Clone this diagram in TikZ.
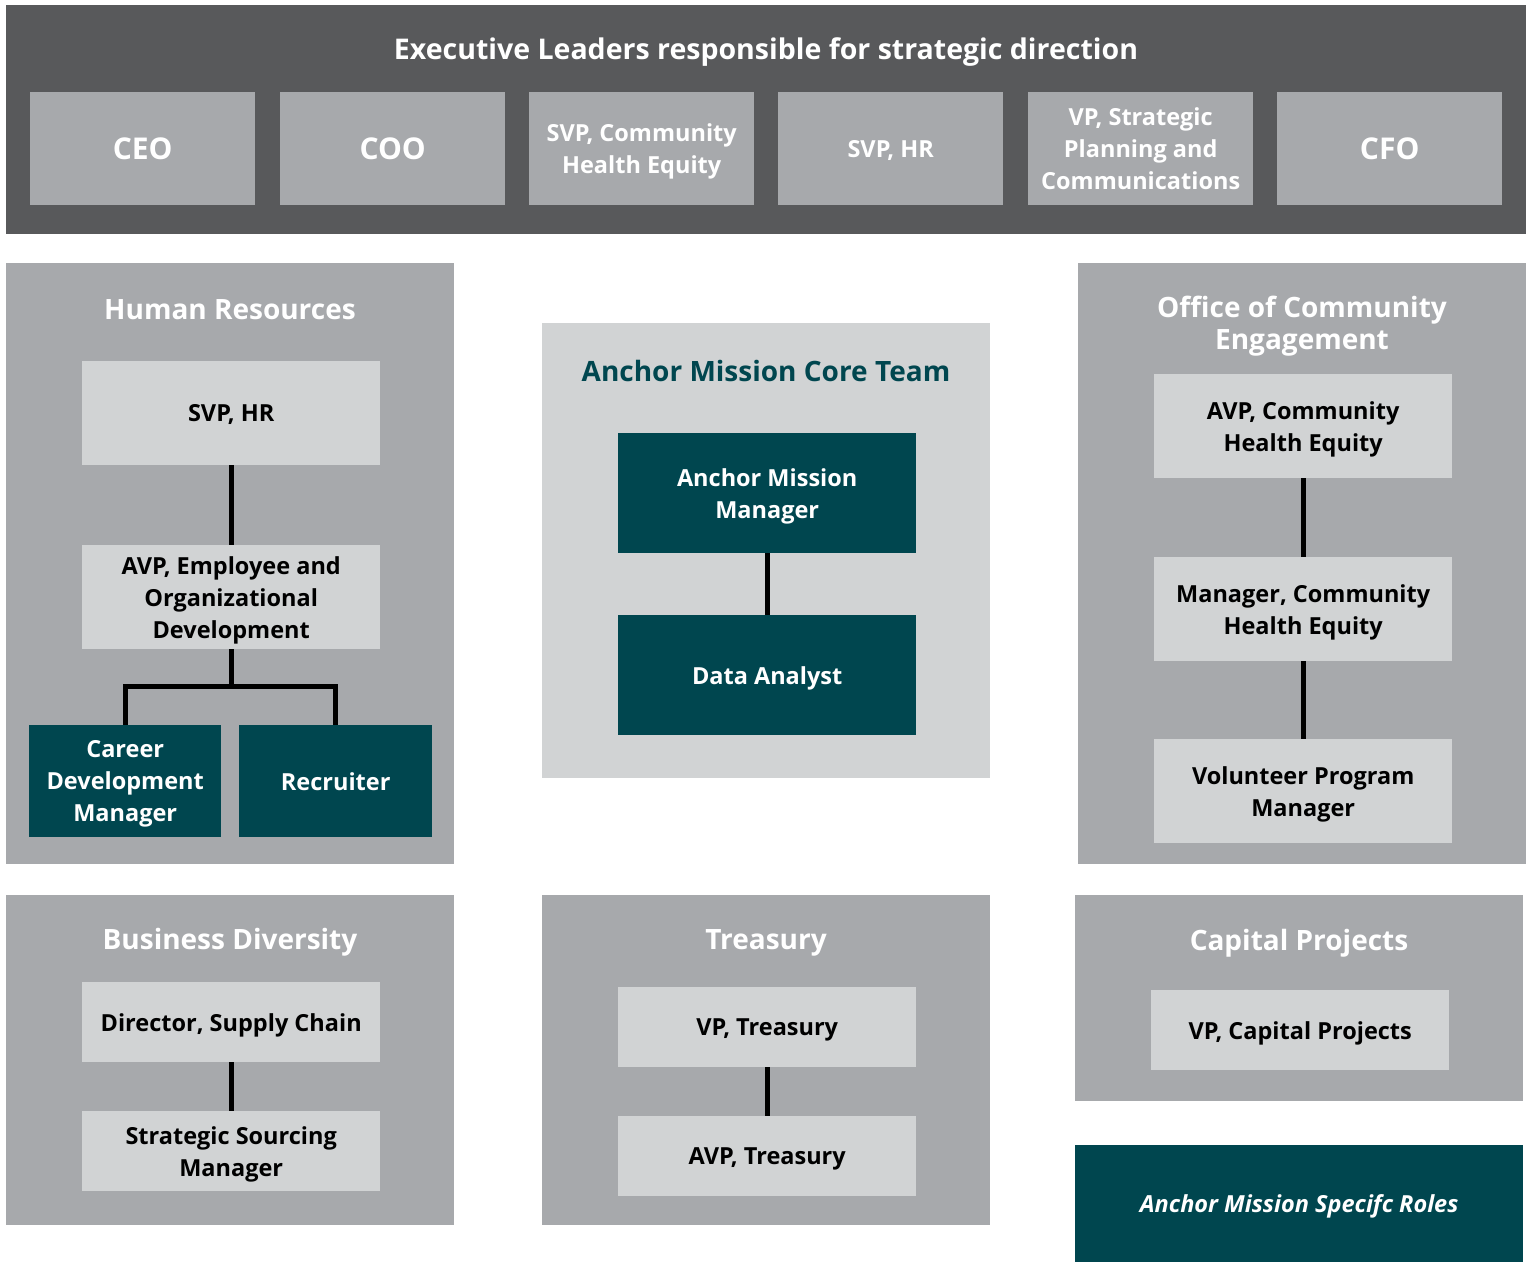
\documentclass[tikz,border=0pt]{standalone}
\usepackage{fontspec}
\setmainfont{Open Sans}
\definecolor{darkgray}{HTML}{58595B}
\definecolor{midgray}{HTML}{A7A9AC}
\definecolor{lightgray}{HTML}{D1D3D4}
\definecolor{teal}{HTML}{00464F}
\begin{document}
\begin{tikzpicture}[x=1pt,y=-1pt,
  panel/.style={fill=midgray,draw=none,anchor=north west,inner sep=0pt},
  lightpanel/.style={fill=lightgray,draw=none,anchor=north west,inner sep=0pt},
  exec/.style={fill=midgray,draw=none,anchor=north west,inner sep=0pt,
    minimum width=225pt,minimum height=113pt,text=white,align=center,text depth=0pt,
    font=\bfseries\fontsize{23.5}{32}\selectfont},
  lbox/.style={fill=lightgray,draw=none,anchor=north west,inner sep=0pt,
    minimum width=298pt,text=black,align=center,text depth=0pt,
    font=\bfseries\fontsize{23.5}{32}\selectfont},
  tbox/.style={fill=teal,draw=none,anchor=north west,inner sep=0pt,text depth=0pt,
    text=white,align=center,font=\bfseries\fontsize{23.5}{32}\selectfont},
  ptitle/.style={text=white,align=center,inner sep=0pt,
    font=\bfseries\fontsize{28}{32}\selectfont},
  conn/.style={draw=black,line width=5pt}]
\useasboundingbox (0,0) rectangle (1531,1262);

% Executive band
\node[fill=darkgray,anchor=north west,inner sep=0pt,minimum width=1520pt,minimum height=229pt] (band) at (6,5) {};
\node[text=white,inner sep=0pt,font=\bfseries\fontsize{28.5}{32}\selectfont] (bandtitle) at (766,52) {Executive Leaders responsible for strategic direction};
\node[exec,font=\bfseries\fontsize{30}{32}\selectfont] (ceo) at (30,92) {CEO};
\node[exec,font=\bfseries\fontsize{30}{32}\selectfont] (coo) at (280,92) {COO};
\node[exec] (svpche) at (529,92) {SVP, Community\\Health Equity};
\node[exec] (svphrx) at (778,92) {SVP, HR};
\node[exec] (vpsp) at (1028,92) {VP, Strategic\\Planning and\\Communications};
\node[exec,font=\bfseries\fontsize{30}{32}\selectfont] (cfo) at (1277,92) {CFO};

% Human Resources panel
\node[panel,minimum width=448pt,minimum height=601pt] (hr) at (6,263) {};
\node[ptitle] (hrt) at (230,310) {Human Resources};
\node[lbox,minimum height=104pt] (svphr) at (82,361) {SVP, HR};
\node[lbox,minimum height=104pt] (avp) at (82,545) {AVP, Employee and\\Organizational\\Development};
\node[tbox,minimum width=192pt,minimum height=112pt] (career) at (29,725) {Career\\Development\\Manager};
\node[tbox,minimum width=193pt,minimum height=112pt] (recr) at (239,725) {Recruiter};
\draw[conn] (svphr.south) -- (avp.north);
\coordinate (hrsplit) at ([yshift=-37pt]avp.south);
\draw[conn] (avp.south) -- (hrsplit);
\draw[conn] (hrsplit) -| (career.north);
\draw[conn] (hrsplit) -| (recr.north);

% Anchor Mission Core Team
\node[lightpanel,minimum width=448pt,minimum height=455pt] (core) at (542,323) {};
\node[ptitle,text=teal] (coret) at (766,371) {Anchor Mission Core Team};
\node[tbox,minimum width=298pt,minimum height=120pt] (amm) at (618,433) {Anchor Mission\\Manager};
\node[tbox,minimum width=298pt,minimum height=120pt] (da) at (618,615) {Data Analyst};
\draw[conn] (amm.south) -- (da.north);

% Office of Community Engagement
\node[panel,minimum width=448pt,minimum height=601pt] (oce) at (1078,263) {};
\node[ptitle] (ocet) at (1302,326) {Office of Community\\Engagement};
\node[lbox,minimum height=104pt] (avpche) at (1154,374) {AVP, Community\\Health Equity};
\node[lbox,minimum height=104pt] (mche) at (1154,557) {Manager, Community\\Health Equity};
\node[lbox,minimum height=104pt] (vpm) at (1154,739) {Volunteer Program\\Manager};
\draw[conn] (avpche.south) -- (mche.north);
\draw[conn] (mche.south) -- (vpm.north);

% Business Diversity
\node[panel,minimum width=448pt,minimum height=330pt] (bd) at (6,895) {};
\node[ptitle] (bdt) at (230,942) {Business Diversity};
\node[lbox,minimum height=80pt] (dsc) at (82,982) {Director, Supply Chain};
\node[lbox,minimum height=80pt] (ssm) at (82,1111) {Strategic Sourcing\\Manager};
\draw[conn] (dsc.south) -- (ssm.north);

% Treasury
\node[panel,minimum width=448pt,minimum height=330pt] (tr) at (542,895) {};
\node[ptitle] (trt) at (766,943) {Treasury};
\node[lbox,minimum height=80pt] (vpt) at (618,987) {VP, Treasury};
\node[lbox,minimum height=80pt] (avpt) at (618,1116) {AVP, Treasury};
\draw[conn] (vpt.south) -- (avpt.north);

% Capital Projects
\node[panel,minimum width=448pt,minimum height=206pt] (cp) at (1075,895) {};
\node[ptitle] (cpt) at (1299,943) {Capital Projects};
\node[lbox,minimum height=80pt] (vpcp) at (1151,990) {VP, Capital Projects};

% Legend
\node[tbox,minimum width=448pt,minimum height=117pt,font=\bfseries\itshape\fontsize{23.5}{32}\selectfont] (legend) at (1075,1145) {Anchor Mission Specifc Roles};
\end{tikzpicture}
\end{document}
